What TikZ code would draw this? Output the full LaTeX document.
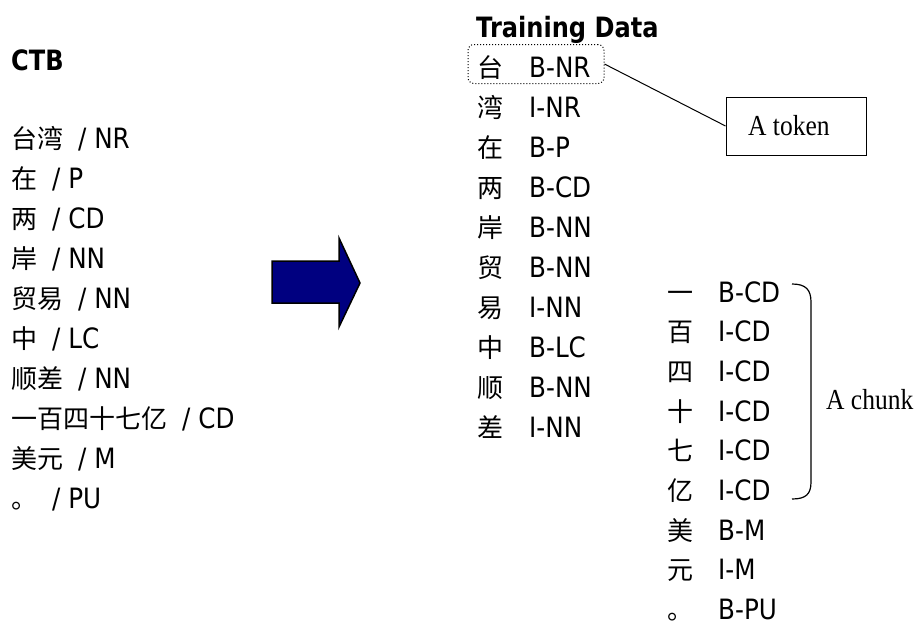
\documentclass[tikz,border=0pt]{standalone}
\usepackage{fontspec}
\setmainfont[FakeStretch=0.88]{DejaVu Sans}
\newfontfamily\cjk{Noto Sans CJK SC}
\newfontfamily\tms[FakeStretch=0.88]{Liberation Serif}
\newfontfamily\hdfont[FakeStretch=0.86]{DejaVu Sans Bold}
\definecolor{arrownavy}{HTML}{000080}
\tikzset{
  txt/.style={inner sep=0pt, anchor=base west, font=\fontsize{28}{32}\selectfont},
  hd/.style={txt, font=\fontsize{28}{32}\selectfont\hdfont},
  ch/.style={txt, font=\fontsize{26}{30}\selectfont\cjk},
  note/.style={inner sep=0pt, anchor=base west, font=\fontsize{29}{33}\selectfont\tms},
  frame/.style={draw, line width=1pt},
}
\newcommand{\segword}[1]{{\fontsize{26}{30}\selectfont\cjk #1}\hspace{15pt}}
\begin{document}
\begin{tikzpicture}[x=1pt,y=-1pt]
  \fill[white] (0,0) rectangle (919,624);
  \useasboundingbox (0,0) rectangle (919,624);

  % left column: segmented corpus
  \node[hd] (ctb) at (11,70) {CTB};
  \foreach \w/\t [count=\i from 0] in
    {台湾/NR, 在/P, 两/CD, 岸/NN, 贸易/NN, 中/LC, 顺差/NN, 一百四十七亿/CD, 美元/M, 。/PU}
    \node[txt] (w\i) at (11,148+40*\i) {\segword{\w}/ \t};

  % big arrow
  \draw[fill=arrownavy, line width=1.5pt]
    (272,261) -- (339,261) -- (339,238) -- (360,283) -- (339,327)
    -- (339,303) -- (272,303) -- cycle;

  % right: character-based training data
  \node[hd] (td) at (476,37) {Training Data};
  \foreach \c/\t [count=\i from 0] in
    {台/B-NR, 湾/I-NR, 在/B-P, 两/B-CD, 岸/B-NN, 贸/B-NN, 易/I-NN, 中/B-LC, 顺/B-NN, 差/I-NN}
    {\node[ch] (a\i) at (477,77+40*\i) {\c};
     \node[txt] (at\i) at (529,77+40*\i) {\t};}
  \foreach \c/\t [count=\i from 0] in
    {一/B-CD, 百/I-CD, 四/I-CD, 十/I-CD, 七/I-CD, 亿/I-CD, 美/B-M, 元/I-M, 。/B-PU}
    {\node[ch] (b\i) at (667,302+39.7*\i) {\c};
     \node[txt] (bt\i) at (718,302+39.7*\i) {\t};}

  % token callout
  \node[draw, dotted, line width=1pt, rounded corners=6pt,
        minimum width=136pt, minimum height=39pt, inner sep=0pt] (tok) at (536,64) {};
  \node[frame, minimum width=140pt, minimum height=58pt, inner sep=0pt] (tokbox) at (796,126) {};
  \node[note] (toklbl) at (748,135.5) {A token};
  \draw[line width=1pt] (tok.east) -- (tokbox.west);

  % chunk bracket
  \draw[line width=1.2pt]
    (792,284) .. controls (806,284) and (811,290) .. (811,302)
    -- (811,482) .. controls (811,494) and (806,499) .. (792,499);
  \node[note] (chunk) at (826,409.5) {A chunk};
\end{tikzpicture}
\end{document}
